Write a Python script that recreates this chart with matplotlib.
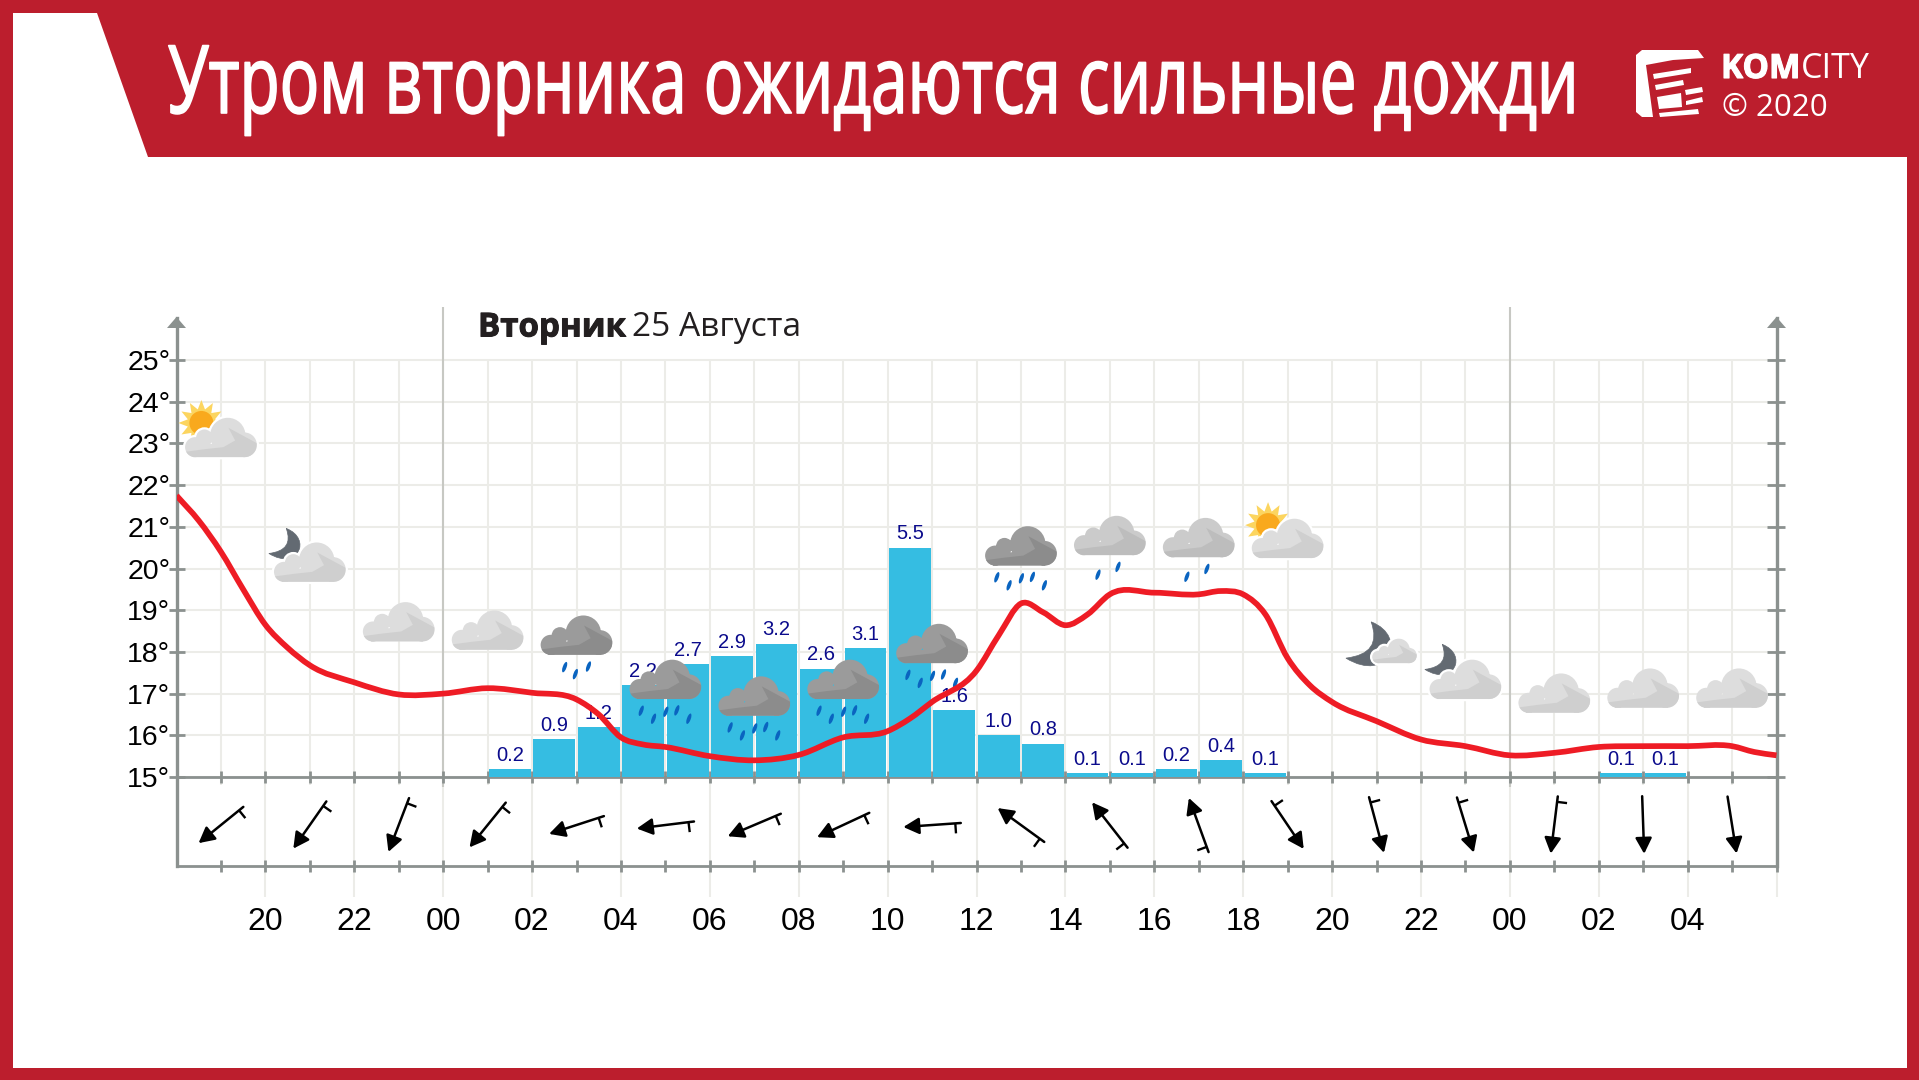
import numpy as np
import matplotlib
matplotlib.use('Agg')
import matplotlib.pyplot as plt
from matplotlib.patches import Polygon, PathPatch, Ellipse, Circle, FancyArrowPatch
from matplotlib.path import Path
from matplotlib.patheffects import AbstractPathEffect, withStroke
from matplotlib.transforms import Affine2D

# --- data ---
# hours count on from 18:00 of monday, so 24 = 00:00 and 48 = 00:00 again
temp_hours = [18, 18.5, 19, 19.5, 20, 20.5, 21, 22, 23, 24, 25, 26, 27, 27.5, 28, 28.5, 29, 30, 31, 32, 33, 34,
              34.5, 35, 36, 36.5, 37, 37.5, 38, 38.5, 39, 40, 41, 41.5, 42, 42.5, 43, 43.5, 44, 45, 46, 47, 48,
              49, 50, 51, 52, 53, 53.5, 54]
temp_vals = [21.75, 21.15, 20.4, 19.5, 18.65, 18.1, 17.68, 17.27, 16.98, 17.0, 17.13, 17.02, 16.86, 16.5, 15.95,
             15.78, 15.72, 15.5, 15.4, 15.53, 15.95, 16.1, 16.4, 16.8, 17.55, 18.4, 19.16, 18.95, 18.64, 18.9,
             19.38, 19.42, 19.38, 19.46, 19.38, 18.9, 17.85, 17.2, 16.8, 16.34, 15.9, 15.74, 15.52, 15.58,
             15.72, 15.74, 15.74, 15.74, 15.6, 15.52]

rain_hours = [25, 26, 27, 28, 29, 30, 31, 32, 33, 34, 35, 36, 37, 38, 39, 40, 41, 42, 50, 51]
rain_vals = [0.2, 0.9, 1.2, 2.2, 2.7, 2.9, 3.2, 2.6, 3.1, 5.5, 1.6, 1.0, 0.8, 0.1, 0.1, 0.2, 0.4, 0.1, 0.1, 0.1]

temp_ticks = list(range(15, 26))
hour_labels = ['20', '22', '00', '02', '04', '06', '08', '10', '12', '14', '16', '18', '20', '22', '00', '02', '04']
label_hours = list(range(20, 53, 2))

# one icon and one wind arrow every two hours
icon_hours = [19, 21, 23, 25, 27, 29, 31, 33, 35, 37, 39, 41, 43, 45, 47, 49, 51, 53]
cloud_base = [22.67, 19.68, 18.25, 18.05, 17.93, 16.87, 16.47, 16.87, 17.73, 20.07, 20.32, 20.27, 20.25, 17.73,
              16.87, 16.54, 16.66, 16.66]
cloud_tone = ['l', 'l', 'l', 'l', 'd', 'd', 'd', 'd', 'd', 'd', 'm', 'm', 'l', 'l', 'l', 'l', 'l', 'l']
rain_drops = [0, 0, 0, 0, 3, 5, 5, 5, 5, 5, 2, 2, 0, 0, 0, 0, 0, 0]
wind_dir = [231, 215, 201, 219, 252, 263, 247, 245, 266, 306, 322, 340, 146, 165, 163, 187, 178, 171]
wind_barb = [1, 1, 1, 1, 1, 1, 1, 1, 1, 1, 1, 1, 1, 1, 1, 1, 0, 0]

sun_hours = [18.56, 42.56]
sun_temps = [23.49, 21.04]
moon_hours = [20.47, 44.88, 46.48]
moon_temps = [20.96, 18.72, 18.18]
moon_sizes = [1.0, 1.45, 1.0]

RED = '#bc1e2d'
GREY = '#8b918f'
GRID = '#ecece8'
BAR = '#35bde2'
LINE = '#ee1c25'
NAVY = '#0b0b8c'

plt.rcParams['font.family'] = ['Liberation Sans', 'DejaVu Sans']

fig = plt.figure(figsize=(19.19, 10.8), dpi=100)
W, H = 1919, 1080

# background layer in picture pixels, y going down
ov = fig.add_axes([0, 0, 1, 1], zorder=0)
ov.set_xlim(0, W)
ov.set_ylim(H, 0)
ov.axis('off')
pix = ov.transData
ov.add_patch(Polygon([(0, 0), (W, 0), (W, H), (0, H)], fc=RED, ec='none'))
ov.add_patch(Polygon([(13, 13), (97, 13), (148, 157), (1907, 157), (1907, 1068), (13, 1068)], fc='white', ec='none'))

# chart
left, right, top, bottom = 176.5, 1776.5, 318, 866
ax = fig.add_axes([left / W, 1 - bottom / H, (right - left) / W, (bottom - top) / H], zorder=1)
ax.patch.set_visible(False)
ax.set_xlim(18, 54)
ax.set_ylim(12.866, 26.007)
ax.set_xticks(list(range(18, 55)))
ax.set_xticklabels([hour_labels[label_hours.index(h)] if h in label_hours else '' for h in range(18, 55)],
                   fontsize=23, color='black')
ax.set_yticks(temp_ticks)
ax.set_yticklabels([f'{t}°' for t in temp_ticks], fontsize=20.5, color='black')
ax.tick_params(axis='x', direction='inout', length=9, width=2, color=GREY, pad=25)
ax.tick_params(axis='y', direction='inout', length=12, width=2, color=GREY, pad=-1.5)
for lab in ax.get_yticklabels():
    lab.set_verticalalignment('center_baseline')
ax.xaxis.get_major_ticks()[0].tick1line.set_visible(False)
ax.spines['top'].set_visible(False)
ax.spines['left'].set_color(GREY)
ax.spines['right'].set_color(GREY)
ax.spines['bottom'].set_color(GREY)
ax.spines['left'].set_linewidth(2.4)
ax.spines['right'].set_linewidth(2.4)
ax.spines['bottom'].set_linewidth(2)

# grid, odd hours stop just under the axis, even hours go down to the labels
low_end = 15 - 120 / 41.7
short_end = 15 - 8 / 41.7
ax.hlines(temp_ticks, 18, 54, color=GRID, lw=1.5, zorder=1)
for h in range(19, 55):
    ax.vlines(h, low_end if h % 2 == 0 else short_end, 25, color=GRID, lw=1.5, zorder=1, clip_on=False)
for h in (24, 48):
    ax.vlines(h, short_end - 0.05, 26.27, color='#c7c8c3', lw=1.5, zorder=1.5, clip_on=False)

# axis at 15 degrees and ticks on it, ticks on the right axis
ax.hlines(15, 18, 54, color=GREY, lw=2, zorder=2)
ax.vlines(list(range(19, 55)), 15 - 6 / 41.7, 15 + 6 / 41.7, color=GREY, lw=2, zorder=2)
ax.hlines(temp_ticks, 54 - 9 / 44.44, 54 + 8 / 44.44, color=GREY, lw=2, zorder=2, clip_on=False)

# axis arrows
for ax_x in (left, right):
    ov.add_patch(Polygon([(ax_x - 9.5, 328), (ax_x, 317), (ax_x + 9.5, 328)], fc=GREY, ec='none'))

# rain bars
ax.bar([h + 0.5 for h in rain_hours], rain_vals, width=0.94, bottom=15, color=BAR, zorder=3)
for h, v in zip(rain_hours, rain_vals):
    ax.annotate(f'{v:.1f}', (h + 0.5, 15 + v), xytext=(0, 3), textcoords='offset points', ha='center', va='bottom',
                fontsize=14.5, color=NAVY, zorder=4)


def to_px(h, t):
    return pix.inverted().transform(ax.transData.transform((h, t)))


def cloud_path(cx, base, w):
    s = w / 215.0
    x0 = cx - w / 2
    lobes = [(30, -30, 30), (58, -58, 25), (128, -65, 53), (178, -37, 37)]
    parts = [Path.circle((x0 + a * s, base + b * s), r * s) for a, b, r in lobes]
    # same winding as the circles, otherwise the overlap turns into a hole
    parts.append(Path([(x0 + 24 * s, base), (x0 + 24 * s, base - 40 * s), (x0 + 180 * s, base - 40 * s),
                       (x0 + 180 * s, base), (x0 + 24 * s, base)],
                      [Path.MOVETO, Path.LINETO, Path.LINETO, Path.LINETO, Path.CLOSEPOLY]))
    return Path.make_compound_path(*parts)


def draw_cloud(cx, base, w, tone, halo=False):
    fill, shade = {'l': ('#dddddd', '#cfcfcf'), 'm': ('#cbcbcb', '#bdbdbd'), 'd': ('#9b9b9b', '#8c8c8c')}[tone]
    path = cloud_path(cx, base, w)
    if halo:
        ax.add_patch(PathPatch(path, fc='white', ec='white', lw=3.2, transform=pix, zorder=6))
    body = PathPatch(path, fc=fill, ec='none', transform=pix, zorder=6)
    ax.add_patch(body)
    s = w / 215.0
    x0 = cx - w / 2
    wedge = [(130, -88), (215, -42), (215, 0), (0, 0), (0, -16), (60, -24), (115, -30), (150, -50)]
    over = Polygon([(x0 + a * s, base + b * s) for a, b in wedge], fc=shade, ec='none', transform=pix, zorder=6)
    ax.add_patch(over)
    over.set_clip_path(body)


def draw_drops(cx, base, w, count):
    spots = {2: [(24, 19.5), (44, 11.7)],
             3: [(24, 12.3), (34.7, 19.3), (47.8, 11.7)],
             5: [(11.7, 11.7), (24, 19.7), (36.3, 12.7), (47.3, 11.3), (59.3, 19.7)]}[count]
    for a, b in spots:
        ax.add_patch(Ellipse((cx - w / 2 + a, base + b), 3.8, 11, angle=20, fc='#0a64c0', ec='none',
                             transform=pix, zorder=6))


def draw_sun(h, t):
    cx, cy = to_px(h, t)
    ang = np.linspace(0, 2 * np.pi, 24, endpoint=False)
    rad = np.where(np.arange(24) % 2 == 0, 23, 14)
    ax.add_patch(Polygon(np.c_[cx + rad * np.cos(ang), cy + rad * np.sin(ang)], fc='#fcd55f', ec='none',
                         transform=pix, zorder=5))
    ax.add_patch(Circle((cx, cy), 12, fc='#f9a91d', ec='none', transform=pix, zorder=5))


def draw_moon(h, t, k):
    ax_, ay_ = to_px(h, t)
    pts = [(0, 0), (26, 10), (12, 43), (-17.4, 25), (8, 22), (0, 0)]
    verts = [(ax_ + k * a, ay_ + k * b) for a, b in pts]
    path = Path(verts, [Path.MOVETO, Path.CURVE4, Path.CURVE4, Path.CURVE4, Path.CURVE3, Path.CURVE3])
    ax.add_patch(PathPatch(path, fc='#636a72', ec='#636a72', lw=0.5, transform=pix, zorder=5))


for h, t in zip(sun_hours, sun_temps):
    draw_sun(h, t)
for h, t, k in zip(moon_hours, moon_temps, moon_sizes):
    draw_moon(h, t, k)

for i, (h, base_t, tone, n) in enumerate(zip(icon_hours, cloud_base, cloud_tone, rain_drops)):
    cx, base = to_px(h, base_t)
    w = 71.7
    if i == 13:  # small cloud next to the big moon
        cx += 18
        w = 44.6
    draw_cloud(cx, base, w, tone, halo=i in (0, 1, 12, 13, 14))
    if n:
        draw_drops(cx, base, w, n)

# wind arrows, direction the arrow points, clockwise from up
wind_t = 15 - 48 / 41.7
for h, d, barb in zip(icon_hours, wind_dir, wind_barb):
    cx, cy = to_px(h, wind_t)
    ux, uy = np.sin(np.radians(d)), -np.cos(np.radians(d))
    tail = (cx - ux * 28.8, cy - uy * 28.8)
    head = (cx + ux * 28.8, cy + uy * 28.8)
    ax.add_patch(FancyArrowPatch(tail, head, arrowstyle='-|>,head_length=9.5,head_width=5', mutation_scale=1,
                                 shrinkA=0, shrinkB=0, lw=1.8, color='black', transform=pix, zorder=7))
    if barb:
        bx, by = tail[0] + ux * 5.5, tail[1] + uy * 5.5
        ax.plot([bx, bx + uy * 10], [by, by - ux * 10], color='black', lw=1.7, transform=pix, zorder=7,
                solid_capstyle='butt')

# temperature line, smooth curve through the read points
tx = np.array(temp_hours, dtype=float)
ty = np.array(temp_vals, dtype=float)
slope = np.gradient(ty, tx)
verts = [(tx[0], ty[0])]
codes = [Path.MOVETO]
for i in range(len(tx) - 1):
    dx = tx[i + 1] - tx[i]
    verts += [(tx[i] + dx / 3, ty[i] + slope[i] * dx / 3), (tx[i + 1] - dx / 3, ty[i + 1] - slope[i + 1] * dx / 3),
              (tx[i + 1], ty[i + 1])]
    codes += [Path.CURVE4, Path.CURVE4, Path.CURVE4]
ax.add_patch(PathPatch(Path(verts, codes), fc='none', ec=LINE, lw=4.1, zorder=8, capstyle='butt', joinstyle='round'))


# the title font in the original is a condensed one: set it at the size that fits the width, then stretch it up
class Taller(AbstractPathEffect):
    def __init__(self, base_y, sy, extra):
        super().__init__()
        self.base_y, self.sy, self.extra = base_y, sy, extra

    def draw_path(self, renderer, gc, tpath, affine, rgbFace=None):
        aff = affine + Affine2D().translate(0, -self.base_y).scale(1, self.sy).translate(0, self.base_y)
        gc0 = renderer.new_gc()
        gc0.copy_properties(gc)
        gc0.set_foreground(rgbFace)
        gc0.set_linewidth(self.extra)
        gc0.set_joinstyle('round')
        renderer.draw_path(gc0, tpath, aff, rgbFace)
        gc0.restore()


title = ov.text(168, 113, 'Утром вторника ожидаются сильные дожди', family='Open Sans', fontsize=68, color='white',
                va='baseline', ha='left')
fig.canvas.draw()
natural = title.get_window_extent(fig.canvas.get_renderer()).width
title_size = 68 * 1412 / natural
title.set_fontsize(title_size)
title.set_path_effects([Taller(H - 113, 68 / title_size, 1.2)])

# date over the chart
ov.text(478, 336.5, 'Вторник', family='Open Sans', weight='bold', fontsize=23.8, color='#231f20', va='baseline',
        path_effects=[withStroke(linewidth=0.7, foreground='#231f20')])
ov.text(632, 336.5, '25 Августа', family='Open Sans', fontsize=24.1, color='#231f20', va='baseline')

# logo
ov.add_patch(Polygon([(1642, 50), (1698, 50), (1704, 58), (1673, 60), (1646, 65), (1653, 117), (1642, 117),
                      (1636, 112), (1636, 55)], fc='white', ec='none', joinstyle='round'))
logo_bars = [[(1653, 74), (1691, 68), (1691, 73), (1654, 79)],
             [(1655, 85), (1683, 80), (1684, 85), (1656, 90)],
             [(1685, 90), (1702, 87), (1703, 92), (1686, 95)],
             [(1657, 97), (1681, 93), (1682, 107), (1659, 109)],
             [(1686, 101), (1702, 97), (1703, 102), (1686, 105)],
             [(1659, 113), (1698, 109), (1699, 114), (1660, 117)]]
for bar_pts in logo_bars:
    ov.add_patch(Polygon(bar_pts, fc='white', ec='none'))
ov.text(1721, 78, 'KOM', family='Open Sans', weight='bold', fontsize=24, color='white', va='baseline',
        path_effects=[withStroke(linewidth=0.8, foreground='white')])
ov.text(1801, 78, 'CITY', family='Open Sans', fontsize=24.5, color='white', va='baseline')
ov.text(1722, 116, '© 2020', family='Open Sans', fontsize=22.5, color='white', va='baseline')

fig.savefig('out.png', dpi=100)
